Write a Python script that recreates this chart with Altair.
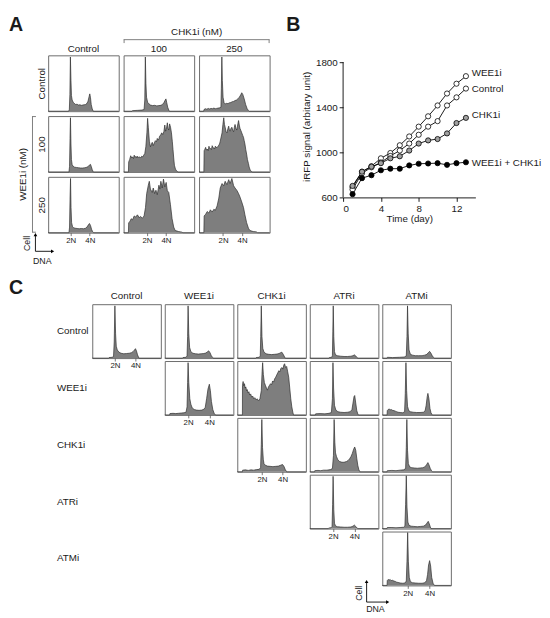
import altair as alt
import pandas as pd

FONT = "Liberation Sans"
TICK_NAMES = ["2N", "4N"]
PANEL_LETTERS = ["A", "B", "C"]
AXIS_NAMES = ["Cell", "DNA"]

# ---------------- Panel A : cell-cycle histograms (x: DNA content 0-100, y: % of max)
A_COLS = ["Control", "100", "250"]
A_ROWS = ["Control", "100", "250"]
A_GROUP_X = "CHK1i (nM)"
A_GROUP_Y = "WEE1i (nM)"
A_TICKS = [[32, 59], [33, 60], [34, 61]]

H_A11 = [[0, 0], [29, 0], [30, 3], [30.8, 30], [31.5, 97], [32.3, 55], [33, 28], [34, 20], [35.5, 16], [37, 14],
         [39, 12], [41, 12.5], [43, 11], [45, 11.5], [47, 10.5], [49, 11], [51, 11.5], [53, 12], [55, 14],
         [56.5, 18], [58, 26], [59, 31], [60, 24], [61, 12], [62.5, 4], [64, 0], [100, 0]]
H_A12 = [[0, 0], [12, 0], [12.5, 1], [20, 1.5], [26, 2], [29, 3], [30, 20], [30.8, 97], [31.6, 50], [32.5, 25],
         [34, 16], [36, 13], [38, 11], [41, 10], [44, 10.5], [47, 9.5], [50, 10], [53, 10.5], [55, 12], [57, 15],
         [59, 20], [60, 22], [61, 16], [62.5, 7], [64, 2], [65, 0], [100, 0]]
H_A13 = [[0, 0], [6.5, 0], [7, 3], [9, 4.5], [11, 3.5], [13, 5], [15, 4], [17, 5], [19, 4.5], [21, 5.5], [23, 4.5],
         [25, 5], [27, 5.5], [29, 6], [31, 7], [31.6, 40], [32.3, 97], [33, 55], [34, 25], [35.5, 15], [37, 13],
         [39, 14], [41, 13.5], [43, 15], [45, 15.5], [47, 17], [49, 17.5], [51, 19], [53, 20], [55, 22], [57, 25],
         [59, 29], [60.5, 33], [62, 30], [64, 22], [66, 12], [68, 5], [70, 1], [71, 0], [100, 0]]
H_A21 = [[0, 0], [29.5, 0], [30.3, 10], [31, 60], [31.6, 97], [32.3, 50], [33, 22], [34, 13], [35.5, 10],
         [37.5, 8.5], [40, 8], [43, 7.5], [46, 7], [49, 7], [52, 7.5], [55, 8.5], [57, 10], [59, 13], [60, 13.5],
         [61, 10], [62.5, 4], [64, 0], [100, 0]]
H_A22 = [[0, 0], [6.8, 0], [7.2, 18], [8.5, 22], [10, 29], [11.5, 25], [12.6, 27], [14, 24], [15, 30], [16.5, 26],
         [17.5, 28], [19, 25], [19.6, 28], [21, 26], [22.5, 27], [24, 25], [25.5, 28], [27, 27], [28.5, 30],
         [30, 33], [31.5, 45], [33, 70], [34, 96], [35, 80], [36.5, 55], [38, 45], [39.5, 50], [40.6, 53],
         [42, 47], [43.5, 52], [45, 56], [46.5, 54], [47.7, 60], [49, 57], [50, 59], [51, 64], [52.5, 66],
         [54, 70], [55.5, 67], [57, 72], [58.4, 84], [59.5, 73], [60.5, 76], [62, 88], [63, 78], [64, 75],
         [65.2, 86], [66.5, 80], [67.8, 70], [69, 55], [70, 40], [71, 25], [72, 12], [73.5, 5], [75, 2],
         [77, 0], [100, 0]]
H_A23 = [[0, 0], [6.8, 0], [7.2, 38], [8, 40], [9.3, 44], [10.5, 39], [11.6, 41], [13, 38], [14, 46], [15, 42],
         [16.3, 42], [17.5, 40], [18.6, 47], [20, 43], [21, 43], [22, 41], [23, 46], [24.5, 44], [25.6, 44],
         [27, 46], [28, 48], [29, 50], [30, 55], [32.6, 70], [33.8, 85], [35, 97], [36, 85], [37, 80],
         [38.3, 72], [39.5, 70], [41, 78], [42, 82], [43, 75], [44, 73], [45.3, 78], [46.5, 80], [48, 74],
         [49, 72], [50, 80], [51, 85], [52.3, 78], [53.5, 75], [55, 86], [56, 92], [57, 84], [58, 78],
         [59.3, 74], [60.5, 70], [62, 65], [63, 62], [64, 56], [65, 50], [66.2, 40], [67.4, 32], [68.6, 22],
         [70, 15], [71, 9], [72, 5], [73, 2.5], [74, 1], [76, 0], [100, 0]]
H_A31 = [[0, 0], [29.5, 0], [30.3, 10], [31, 60], [31.7, 97], [32.4, 45], [33.2, 18], [34.5, 11], [36, 9],
         [38, 8], [41, 7.5], [44, 7], [47, 7.5], [50, 7], [53, 8], [55, 10], [57, 14], [58.5, 16.5], [60, 13],
         [61.5, 6], [63, 2], [64.5, 0], [100, 0]]
H_A32 = [[0, 0], [6.8, 0], [7.2, 18], [9, 20], [10.7, 25], [12.6, 23], [15, 30], [17, 28], [19.6, 32], [22, 27],
         [24, 29], [26.6, 26], [29, 30], [31, 45], [32.7, 70], [35, 85], [36.4, 92], [38, 78], [40.6, 72],
         [42, 80], [44, 70], [45.8, 76], [47.7, 68], [50, 85], [51.4, 78], [52.8, 92], [54.7, 80], [56.5, 96],
         [58.4, 82], [60.3, 90], [62, 75], [64, 72], [66.4, 50], [68.7, 25], [71, 10], [73, 4], [78, 2],
         [82.7, 1], [84, 0], [100, 0]]
H_A33 = [[0, 0], [6.8, 0], [7.2, 30], [9.3, 33], [11.6, 38], [14, 35], [16, 41], [18.6, 37], [21, 42], [23, 40],
         [25.6, 48], [28, 62], [30, 80], [32.6, 88], [35, 84], [37, 92], [39.5, 86], [42, 95], [44, 88],
         [46.5, 97], [49, 84], [51, 80], [53.5, 76], [56, 70], [58, 64], [60.5, 55], [63, 45], [65, 32],
         [67.4, 18], [70, 8], [72, 4], [76.7, 2], [81, 1.5], [83, 0], [100, 0]]
A_HISTS = [[H_A11, H_A12, H_A13], [H_A21, H_A22, H_A23], [H_A31, H_A32, H_A33]]

# ---------------- Panel B : iRFP growth curves
DAYS = list(range(1, 14))
B_WEE1I = [690, 828, 877, 947, 994, 1063, 1141, 1228, 1320, 1416, 1522, 1609, 1676]
B_CONTROL = [670, 814, 867, 910, 968, 1016, 1078, 1156, 1228, 1277, 1416, 1488, 1566]
B_CHK1I = [702, 828, 873, 904, 947, 965, 1016, 1078, 1106, 1118, 1168, 1260, 1306]
B_COMBO = [629, 771, 797, 841, 855, 855, 884, 899, 901, 904, 889, 904, 912]
SERIES = ["WEE1i", "Control", "CHK1i", "WEE1i + CHK1i"]
SERIES_FILL = ["white", "white", "#a0a0a0", "black"]
SERIES_LABEL_Y = [1700, 1565, 1330, 905]
B_X_RANGE = [0, 14]
B_Y_RANGE = [600, 1800]
B_X_TICKS = [0, 2, 4, 6, 8, 10, 12, 14]
B_Y_TICKS = [600, 800, 1000, 1200, 1400, 1600, 1800]
B_X_TITLE = "Time (day)"
B_Y_TITLE = "iRFP signal (arbitary unit)"

# ---------------- Panel C : pairwise inhibitor combinations (upper triangle)
C_NAMES = ["Control", "WEE1i", "CHK1i", "ATRi", "ATMi"]
C_TICKS = [[33, 63], [34, 65], [36, 66], [34, 65], [37, 69]]

H_C11 = [[0, 0], [24, 0], [24.5, 1], [29, 1.5], [31, 3], [32, 30], [33, 97], [34, 45], [35, 22], [36.5, 15],
         [39, 11], [42, 9], [46, 8], [50, 8.5], [54, 9], [57, 10], [59.5, 12], [61.5, 15], [63, 17.5],
         [64.5, 13], [66, 6], [68, 0], [100, 0]]
H_C12 = [[0, 0], [26, 0], [26.5, 1], [31, 1.5], [32.5, 4], [33.3, 40], [34, 97], [35, 45], [36.2, 20], [38, 12],
         [41, 9], [45, 8], [49, 7.5], [53, 8], [57, 8.5], [60, 9.5], [62, 11.5], [64, 13.5], [66, 10], [68, 4],
         [70, 1], [71, 0], [100, 0]]
H_C13 = [[0, 0], [27, 0], [27.5, 1], [32, 1.5], [33.5, 4], [34.2, 40], [35, 97], [36, 40], [37.2, 18], [39, 11],
         [42, 8], [46, 7], [50, 6.5], [54, 7], [58, 7.5], [61, 8.5], [63, 10], [65, 11], [67, 7], [69, 2],
         [70, 0], [100, 0]]
H_C14 = [[0, 0], [28, 0], [28.5, 1], [32, 1.5], [33, 5], [33.6, 50], [34.2, 97], [35, 40], [36, 12], [37.5, 6],
         [40, 4.5], [45, 3.5], [50, 3], [55, 3], [60, 3.5], [63, 4.5], [65, 6], [67, 4], [69, 1], [70, 0],
         [100, 0]]
H_C15 = [[0, 0], [7, 0], [7.5, 1.5], [15, 1], [25, 1.5], [32, 2], [35, 4], [36, 40], [36.8, 97], [37.8, 45],
         [39, 15], [41, 7], [44, 5.5], [48, 4.5], [53, 4.5], [58, 4.5], [62, 5.5], [65, 7], [67, 10],
         [69, 12.5], [71, 9], [73, 4], [75, 1], [76, 0], [100, 0]]
H_C22 = [[0, 0], [7, 0], [7.5, 2.5], [12, 3], [16, 2.5], [20, 3], [24, 3.5], [28, 4], [31, 5], [32.5, 15],
         [33.3, 60], [34, 97], [35, 60], [36.5, 30], [38, 20], [40, 13], [43, 10], [46, 9], [50, 8.5], [54, 9],
         [57, 10.5], [59, 14], [61, 30], [63, 48], [65, 57], [66.5, 45], [68, 25], [70, 10], [72, 3], [74, 0],
         [100, 0]]
H_C23 = [[0, 0], [7.5, 0], [7.6, 55], [8.5, 62], [9.5, 54], [10.5, 58], [11.5, 50], [12.5, 52], [13.5, 45],
         [14.5, 47], [15.7, 41], [17, 43], [18, 37], [19.5, 39], [21, 33], [22.5, 35], [24, 30], [25.5, 32],
         [27.5, 28], [29, 30], [31, 26], [33, 30], [35, 45], [36.2, 80], [37, 97], [38, 75], [39.5, 60],
         [41, 55], [42.5, 50], [44, 46], [45.5, 52], [47, 55], [48.5, 58], [50, 56], [51.5, 63], [53, 61],
         [54.5, 67], [56, 70], [57.5, 74], [59, 78], [60.5, 82], [62, 80], [63.5, 86], [65, 88], [66.5, 85],
         [68, 93], [69, 95], [70.5, 88], [72, 90], [73.5, 80], [75, 70], [76.5, 50], [78, 30], [79.5, 15],
         [81, 5], [82, 0], [100, 0]]
H_C24 = [[0, 0], [8, 0], [8.5, 2], [15, 2.5], [22, 2], [28, 3], [31.5, 4.5], [33, 30], [33.8, 97], [34.7, 50],
         [36, 18], [38, 9], [41, 6], [45, 5], [50, 4.5], [55, 5], [59, 6], [61.5, 10], [63, 22], [64.5, 34],
         [65.5, 36], [67, 22], [68.5, 8], [70, 2], [71, 0], [100, 0]]
H_C25 = [[0, 0], [7, 0], [7.3, 8], [8.5, 10], [10, 11], [11.5, 9.5], [13, 10], [15, 8.5], [17, 8], [19, 7],
         [21, 6], [23, 5], [26, 4.5], [30, 4], [32.5, 6], [33.5, 40], [34.5, 97], [35.5, 45], [36.8, 16],
         [38.5, 8], [41, 6], [45, 5], [50, 4.5], [55, 4.5], [60, 5], [62.5, 8], [64, 18], [65.5, 34],
         [66.5, 40], [68, 30], [69.5, 12], [71, 4], [73, 0], [100, 0]]
H_C33 = [[0, 0], [7.5, 0], [7.8, 3], [12, 3.5], [16, 2.5], [20, 3.5], [24, 3], [28, 4], [32, 4.5], [34, 8],
         [35, 50], [35.8, 97], [36.8, 45], [38, 22], [39, 15], [41, 12], [44, 10.5], [48, 10], [52, 9.5],
         [56, 10], [60, 10.5], [63, 12], [66, 13.5], [68, 10], [70, 4], [72, 0], [100, 0]]
H_C34 = [[0, 0], [7, 0], [7.3, 2], [12, 2.5], [16, 2], [20, 3], [25, 3], [30, 4], [33, 6], [34.5, 30],
         [35.5, 97], [36.5, 55], [37.5, 35], [39, 28], [41, 22], [43.5, 19], [46, 18], [48.5, 17.5], [51, 18],
         [53.5, 19], [56, 21], [58, 24], [60, 28], [62, 34], [64, 42], [65.5, 46], [67, 40], [68.5, 25],
         [70, 12], [71.5, 4], [73, 0], [100, 0]]
H_C35 = [[0, 0], [7, 0], [7.3, 2], [14, 2.5], [20, 2], [26, 3], [31, 3.5], [34, 6], [35, 45], [35.8, 97],
         [36.8, 40], [38, 15], [40, 9], [43, 7.5], [47, 7], [51, 6.5], [55, 7], [59, 7.5], [62, 9], [64.5, 13],
         [66.5, 17], [68, 13], [70, 6], [72, 1.5], [73, 0], [100, 0]]
H_C44 = [[0, 0], [27, 0], [27.5, 1], [31, 1.5], [32.5, 4], [33.3, 45], [34, 97], [35, 35], [36, 10], [37.5, 5],
         [40, 3.5], [45, 3], [50, 2.5], [55, 2.5], [60, 3], [63, 4.5], [65, 6.5], [67, 4], [69, 1], [70, 0],
         [100, 0]]
H_C45 = [[0, 0], [7, 0], [7.3, 2], [14, 2], [20, 1.5], [26, 2], [31, 2.5], [33, 5], [34, 45], [35, 98], [36, 40],
         [37.3, 12], [39, 6], [42, 4.5], [46, 4], [51, 3.5], [56, 4], [60, 4.5], [63, 6.5], [65, 10],
         [67, 13.5], [68.5, 9], [70, 3], [71, 0], [100, 0]]
H_C55 = [[0, 0], [7, 0], [7.3, 9], [8.5, 11], [10, 10], [11.5, 11], [13, 9], [15, 9.5], [17, 8], [19, 7.5],
         [21, 6], [23, 5.5], [26, 4.5], [30, 4], [33, 4.5], [35, 8], [36, 45], [37, 98], [38, 45], [39.3, 15],
         [41, 7], [44, 5], [48, 4.5], [53, 4], [58, 4], [62, 5], [64.5, 9], [66, 20], [67.5, 38], [69, 46],
         [70.5, 36], [72, 15], [74, 4], [76, 0], [100, 0]]
C_HISTS = {
    (0, 0): H_C11, (0, 1): H_C12, (0, 2): H_C13, (0, 3): H_C14, (0, 4): H_C15,
    (1, 1): H_C22, (1, 2): H_C23, (1, 3): H_C24, (1, 4): H_C25,
    (2, 2): H_C33, (2, 3): H_C34, (2, 4): H_C35,
    (3, 3): H_C44, (3, 4): H_C45,
    (4, 4): H_C55,
}

# ---------------- styles / layout
HIST_FILL = "#7e7e7e"
HIST_LINE = "#2e2e2e"
TXT = "#1a1a1a"
A_W, A_H, A_SP = 72, 57, 5
C_W, C_H, C_HS, C_VS = 70, 55, 4, 3
C_LEAD = 41
B_W, B_H, B_DROP = 135, 138, 7

ONE = pd.DataFrame({"k": [0]})


def ann_text(s, x, y, size=10, angle=0, align="center", baseline="middle", weight="normal"):
    kw = dict(fontSize=size, align=align, baseline=baseline, fontWeight=weight, color=TXT)
    if angle:
        kw["angle"] = angle
    return alt.Chart(ONE).mark_text(**kw).encode(x=alt.value(x), y=alt.value(y), text=alt.value(s))


def ann_rule(x, y, x2=None, y2=None, color="#707070", width=0.9):
    enc = {"x": alt.value(x), "y": alt.value(y)}
    if x2 is not None:
        enc["x2"] = alt.value(x2)
    if y2 is not None:
        enc["y2"] = alt.value(y2)
    return alt.Chart(ONE).mark_rule(color=color, strokeWidth=width).encode(**enc)


def ann_head(shape, x, y):
    return alt.Chart(ONE).mark_point(shape=shape, filled=True, color="black", size=14, opacity=1).encode(
        x=alt.value(x), y=alt.value(y))


def axis_indicator(x0, y_top, y_base, x_end, cell_xy, dna_xy):
    return [
        ann_rule(x0, y_top, y2=y_base, color="black", width=0.9),
        ann_rule(x0, y_base, x2=x_end, color="black", width=0.9),
        ann_head("triangle-up", x0, y_top - 1),
        ann_head("triangle-right", x_end + 1.5, y_base),
        ann_text(AXIS_NAMES[0], cell_xy[0], cell_xy[1], size=9, angle=270),
        ann_text(AXIS_NAMES[1], dna_xy[0], dna_xy[1], size=9),
    ]


def letter(s, x, y):
    return ann_text(s, x, y, size=20, align="left", baseline="top", weight="bold")


def hist(pts, w, h, ticks=None, ytitle=None, header=None, header_y=-6, extra=()):
    df = pd.DataFrame(pts, columns=["x", "y"])
    if ticks:
        xax = alt.Axis(values=ticks,
                       labelExpr=f"datum.value < 48 ? '{TICK_NAMES[0]}' : '{TICK_NAMES[1]}'",
                       tickSize=3, tickColor="#555", tickWidth=0.8, domain=False, grid=False, title=None,
                       labelFontSize=8, labelPadding=1, labelColor=TXT, labelOverlap=False)
    else:
        xax = None
    if ytitle:
        yax = alt.Axis(title=ytitle, labels=False, ticks=False, domain=False, grid=False, titlePadding=2,
                       titleFontSize=10, titleFontWeight="normal", titleColor=TXT)
    else:
        yax = None
    area = alt.Chart(df).mark_area(color=HIST_FILL, opacity=1,
                                   line={"color": HIST_LINE, "strokeWidth": 0.7}).encode(
        x=alt.X("x:Q", scale=alt.Scale(domain=[0, 100], nice=False), axis=xax),
        y=alt.Y("y:Q", scale=alt.Scale(domain=[0, 100], nice=False), axis=yax),
    )
    layers = list(extra)
    if header:
        layers.append(ann_text(header, w / 2, header_y))
    ch = alt.layer(area, *layers) if layers else area
    return ch.properties(width=w, height=h)


def spacer(w, h, extra=()):
    base = alt.Chart(ONE).mark_point(opacity=0, size=1).encode(x=alt.value(1), y=alt.value(1))
    ch = alt.layer(base, *extra) if extra else base
    return ch.properties(width=w, height=h, view=alt.ViewBackground(strokeOpacity=0))


# ---------------- Panel A (one flat 3x3 grid)
a_cells = []
for r in range(3):
    for c in range(3):
        extra = []
        if r == 0 and c == 0:
            extra.append(letter(PANEL_LETTERS[0], -40, -41))
        if r == 0 and c == 1:
            span = 2 * A_W + A_SP
            extra += [
                ann_text(A_GROUP_X, span / 2, -24),
                ann_rule(0, -16, x2=span),
                ann_rule(0.5, -16, y2=-12.5),
                ann_rule(span - 0.5, -16, y2=-12.5),
            ]
        if r == 1 and c == 0:
            span = 2 * A_H + A_SP
            extra += [
                ann_text(A_GROUP_Y, -26, span / 2, angle=270),
                ann_rule(-16, 0, y2=span),
                ann_rule(-16, 0.5, x2=-12.5),
                ann_rule(-16, span - 0.5, x2=-12.5),
            ]
        if r == 2 and c == 0:
            extra += axis_indicator(-13, 60, 76, 3, (-22, 68), (-6, 86))
        a_cells.append(hist(
            A_HISTS[r][c], A_W, A_H,
            ticks=A_TICKS[c] if r == 2 else None,
            ytitle=A_ROWS[r] if c == 0 else None,
            header=A_COLS[c] if r == 0 else None,
            header_y=-6,
            extra=extra,
        ))
panel_a = alt.concat(*a_cells, columns=3, spacing=A_SP, bounds="flush")

# ---------------- Panel B
dfB = pd.DataFrame({
    "day": DAYS * 4,
    "value": B_WEE1I + B_CONTROL + B_CHK1I + B_COMBO,
    "series": [s for s in SERIES for _ in DAYS],
})
dfL = pd.DataFrame({"day": [DAYS[-1]] * 4, "value": SERIES_LABEL_Y, "label": SERIES})
dfAx = pd.DataFrame({"day": [B_X_RANGE[0]], "value": [B_Y_RANGE[0]], "value2": [B_Y_RANGE[1]]})
y_top = B_Y_RANGE[1] + (B_Y_RANGE[1] - B_Y_RANGE[0]) * B_DROP / B_H   # plot starts a little lower than panel A
axis_style = dict(domainColor="black", tickColor="black", tickSize=4, tickWidth=0.9, domainWidth=0.9,
                  labelFontSize=10, titleFontSize=10, titleFontWeight="normal", labelColor=TXT,
                  titleColor=TXT, grid=False, labelPadding=2, format="d", labelOverlap=False)
xB = alt.X("day:Q", scale=alt.Scale(domain=B_X_RANGE, nice=False),
           axis=alt.Axis(values=B_X_TICKS, title=B_X_TITLE, titlePadding=1, **axis_style))
yB = alt.Y("value:Q", scale=alt.Scale(domain=[B_Y_RANGE[0], y_top], nice=False, zero=False),
           axis=alt.Axis(values=B_Y_TICKS, title=B_Y_TITLE, titlePadding=4, domain=False, **axis_style))
b_axisline = alt.Chart(dfAx).mark_rule(color="black", strokeWidth=0.9).encode(x=xB, y=yB, y2="value2:Q")
b_lines = alt.Chart(dfB).mark_line(color="black", strokeWidth=0.9).encode(x=xB, y=yB, detail="series:N")
b_pts = alt.Chart(dfB).mark_point(shape="circle", filled=True, size=28, stroke="black", strokeWidth=0.8,
                                  opacity=1).encode(
    x=xB, y=yB,
    fill=alt.Fill("series:N", scale=alt.Scale(domain=SERIES, range=SERIES_FILL), legend=None))
b_lab = alt.Chart(dfL).mark_text(align="left", baseline="middle", dx=6, fontSize=10, color=TXT).encode(
    x="day:Q", y="value:Q", text="label:N")
b_letter = letter(PANEL_LETTERS[1], -58, -41)
panel_b = alt.layer(b_axisline, b_lines, b_pts, b_lab, b_letter).properties(
    width=B_W, height=B_H + B_DROP, view=alt.ViewBackground(strokeOpacity=0))

top = alt.hconcat(panel_a, panel_b, spacing=15)

# ---------------- Panel C (flat grid: a lead column for row names, then the 5x5 upper triangle)
c_items = []
for r in range(5):
    lead = [ann_text(C_NAMES[r], 9, C_H / 2, align="left")]
    if r == 0:
        lead.append(letter(PANEL_LETTERS[2], -40, -26))
    c_items.append(spacer(C_LEAD, C_H, lead))
    for c in range(5):
        if c < r:
            c_items.append(spacer(C_W, C_H))
            continue
        extra = []
        if r == 4 and c == 4:
            extra += axis_indicator(-16, 52, 72, 4, (-24, 63), (-7, 79))
        c_items.append(hist(
            C_HISTS[(r, c)], C_W, C_H,
            ticks=C_TICKS[c] if r == c else None,
            header=C_NAMES[c] if r == 0 else None,
            header_y=-8,
            extra=extra,
        ))
panel_c = alt.concat(*c_items, columns=6, spacing={"row": C_VS, "column": C_HS}, bounds="flush")

chart = alt.vconcat(top, panel_c, spacing=12, padding=0).configure(
    font=FONT
).configure_view(stroke="#6a6a6a", strokeWidth=1)

chart.save("out.html", embed_options={"renderer": "svg", "actions": False})
